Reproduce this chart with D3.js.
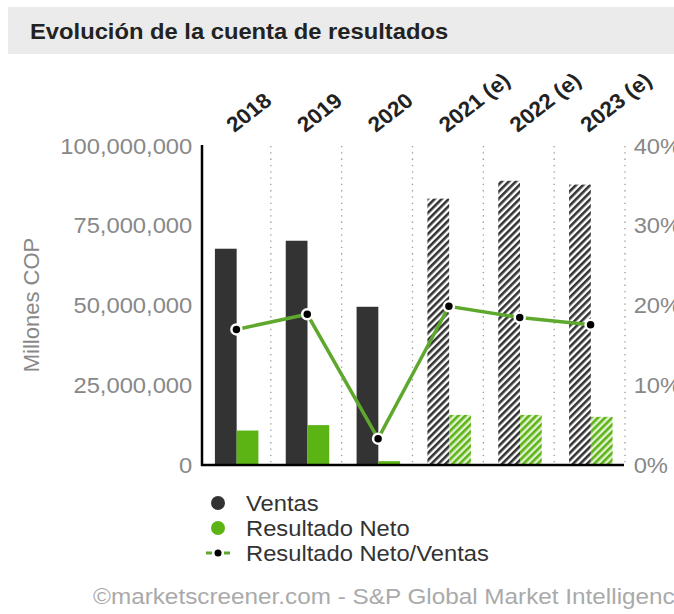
<!DOCTYPE html>
<html>
<head>
<meta charset="utf-8">
<script src="https://cdn.jsdelivr.net/npm/d3@7.9.0/dist/d3.min.js"></script>
<style>
  body { margin: 0; background: #fff; }
  svg text { font-family: "Liberation Sans", Arial, sans-serif; }
</style>
</head>
<body>
<svg id="chart" width="674" height="614"></svg>
<script>
// values
const years = ['2018', '2019', '2020', '2021 (e)', '2022 (e)', '2023 (e)'];
const estimated = [false, false, false, true, true, true];
const ventas = [67.8e6, 70.3e6, 49.6e6, 83.5e6, 89.1e6, 87.9e6];
const neto = [10.8e6, 12.5e6, 1.2e6, 15.7e6, 15.7e6, 15.1e6];
const ratio = [17.0, 18.9, 3.3, 19.9, 18.5, 17.6];
const leftTicks = [0, 25e6, 50e6, 75e6, 100e6];
const rightTicks = [0, 10, 20, 30, 40];

const svg = d3.select('#chart');
const dark = '#333333';
const green = '#5cb314';
const lineGreen = '#5fa82e';
const wide = 'scale(1.08,1)'; // the reference text is drawn a bit wide

// hatch patterns for the estimated years
const defs = svg.append('defs');
function hatch(id, bg, fg) {
  const p = defs.append('pattern')
    .attr('id', id)
    .attr('patternUnits', 'userSpaceOnUse')
    .attr('width', 5).attr('height', 5)
    .attr('patternTransform', 'rotate(45)');
  p.append('rect').attr('width', 5).attr('height', 5).attr('fill', bg);
  p.append('rect').attr('width', 2.6).attr('height', 5).attr('fill', fg);
}
hatch('hatchDark', '#ffffff', dark);
hatch('hatchGreen', '#e3f2d4', green);

// title band
svg.append('rect')
  .attr('x', 8).attr('y', 7).attr('width', 666).attr('height', 47)
  .attr('fill', '#ebebeb');
svg.append('text')
  .attr('transform', 'translate(30,39) ' + wide)
  .attr('font-size', 22).attr('font-weight', 'bold').attr('fill', '#222')
  .text('Evolución de la cuenta de resultados');

const x = d3.scaleBand().domain(years).range([200, 625]);
const y = d3.scaleLinear().domain([0, 100e6]).range([465, 146]);
const y2 = d3.scaleLinear().domain([0, 40]).range([465, 146]);
const sub = d3.scaleBand().domain(['ventas', 'neto']).range([-20.5, 23]);

// dotted separators between years
svg.append('g')
  .selectAll('line')
  .data(years)
  .join('line')
  .attr('x1', d => x(d) + x.bandwidth())
  .attr('x2', d => x(d) + x.bandwidth())
  .attr('y1', 146).attr('y2', 463)
  .attr('stroke', '#999')
  .attr('stroke-width', 1.3)
  .attr('stroke-dasharray', '1.3,5');

// left axis
const leftAxis = svg.append('g')
  .attr('transform', 'translate(202,0)')
  .call(d3.axisLeft(y).tickValues(leftTicks).tickSize(0).tickPadding(9)
    .tickFormat(d3.format(',')));
leftAxis.select('.domain').remove();
leftAxis.selectAll('text')
  .attr('transform', wide)
  .attr('font-size', 22).attr('fill', '#888').attr('font-family', null);

// right axis
const rightAxis = svg.append('g')
  .attr('transform', 'translate(625,0)')
  .call(d3.axisRight(y2).tickValues(rightTicks).tickSize(0).tickPadding(8)
    .tickFormat(d => d + '%'));
rightAxis.select('.domain').remove();
rightAxis.selectAll('text')
  .attr('transform', wide)
  .attr('font-size', 22).attr('fill', '#888').attr('font-family', null);

svg.append('text')
  .attr('transform', 'translate(39,305) rotate(-90)')
  .attr('text-anchor', 'middle')
  .attr('font-size', 22).attr('fill', '#888')
  .text('Millones COP');

// bars
const groups = svg.append('g')
  .selectAll('g')
  .data(years)
  .join('g')
  .attr('transform', d => `translate(${x(d) + x.bandwidth() / 2},0)`);

groups.append('rect')
  .attr('x', sub('ventas'))
  .attr('width', sub.bandwidth())
  .attr('y', (d, i) => y(ventas[i]))
  .attr('height', (d, i) => y(0) - y(ventas[i]))
  .attr('fill', (d, i) => estimated[i] ? 'url(#hatchDark)' : dark);

groups.append('rect')
  .attr('x', sub('neto'))
  .attr('width', sub.bandwidth())
  .attr('y', (d, i) => y(neto[i]))
  .attr('height', (d, i) => y(0) - y(neto[i]))
  .attr('fill', (d, i) => estimated[i] ? 'url(#hatchGreen)' : green);

// axis lines
svg.append('line')
  .attr('x1', 202).attr('x2', 202).attr('y1', 145).attr('y2', 466)
  .attr('stroke', '#000').attr('stroke-width', 2.5);
svg.append('line')
  .attr('x1', 201).attr('x2', 624).attr('y1', 465).attr('y2', 465)
  .attr('stroke', '#000').attr('stroke-width', 2.5);

// ratio line
const cx = d => x(d) + x.bandwidth() / 2 + 1;
const line = d3.line()
  .x(d => cx(d))
  .y((d, i) => y2(ratio[i]));
svg.append('path')
  .datum(years)
  .attr('d', line)
  .attr('fill', 'none')
  .attr('stroke', lineGreen)
  .attr('stroke-width', 3.5);

svg.append('g')
  .selectAll('circle')
  .data(years)
  .join('circle')
  .attr('cx', cx)
  .attr('cy', (d, i) => y2(ratio[i]))
  .attr('r', 5)
  .attr('fill', '#000')
  .attr('stroke', '#fff')
  .attr('stroke-width', 2.5);

// year labels
svg.append('g')
  .selectAll('text')
  .data(years)
  .join('text')
  .attr('transform', d => `translate(${cx(d) - 2},133) ${wide} rotate(-40)`)
  .attr('font-size', 21).attr('font-weight', 'bold').attr('fill', '#222')
  .text(d => d);

// legend
const legendItems = ['Ventas', 'Resultado Neto', 'Resultado Neto/Ventas'];
const legend = svg.append('g').attr('transform', 'translate(218,503)');
legendItems.forEach((name, i) => {
  const g = legend.append('g').attr('transform', `translate(0,${i * 25})`);
  if (i < 2) {
    g.append('circle').attr('r', 7).attr('fill', i === 0 ? dark : green);
  } else {
    g.append('line')
      .attr('x1', -12).attr('x2', 14).attr('y1', 0).attr('y2', 0)
      .attr('stroke', lineGreen).attr('stroke-width', 3)
      .attr('stroke-dasharray', '6,3');
    g.append('circle').attr('r', 3.5).attr('fill', '#000');
  }
  g.append('text')
    .attr('transform', `translate(28,8) ${wide}`)
    .attr('font-size', 22).attr('fill', '#333')
    .text(name);
});

// source
svg.append('text')
  .attr('transform', 'translate(93,604) ' + wide)
  .attr('font-size', 22.5).attr('fill', '#aaa')
  .text('©marketscreener.com - S&P Global Market Intelligence');
</script>
</body>
</html>
